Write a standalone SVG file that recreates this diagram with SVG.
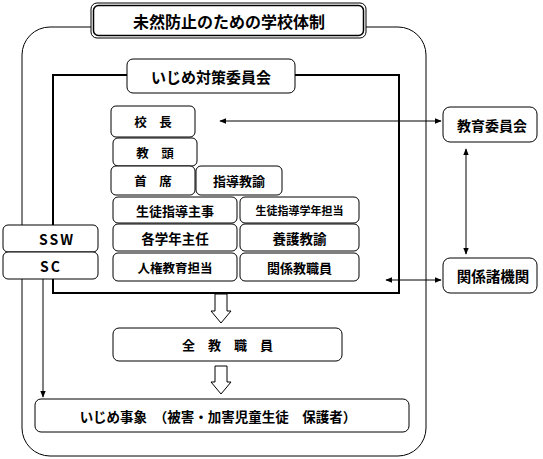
<svg xmlns="http://www.w3.org/2000/svg" width="543" height="459" viewBox="0 0 543 459">
<style>
.b{fill:#fff;stroke:#000;stroke-width:1}
.d{fill:#fff;stroke:#000;stroke-width:1}
.t{font-family:"Noto Sans CJK JP","Noto Sans CJK SC",sans-serif;font-weight:bold;fill:#000;text-anchor:middle;dominant-baseline:central}
.l{stroke:#000;stroke-width:1;fill:none}
.h{fill:#fff;stroke:#000;stroke-width:1}
</style>
<defs>
<marker id="a" viewBox="0 0 10 10" refX="9" refY="5" markerWidth="7" markerHeight="7" orient="auto-start-reverse" markerUnits="userSpaceOnUse"><path d="M0,1 L10,5 L0,9 Z" fill="#000"/></marker>
</defs>
<g id="frame">
<rect x="22" y="27" width="404" height="429" rx="28" class="l" stroke="#222"/>
<rect x="53" y="75" width="346" height="218" fill="none" stroke="#000" stroke-width="2"/>
</g>
<g id="connectors">
<line x1="220" y1="121" x2="441" y2="121" class="l" marker-start="url(#a)" marker-end="url(#a)"/>
<line x1="466" y1="149" x2="466" y2="254" class="l" marker-start="url(#a)" marker-end="url(#a)"/>
<line x1="386" y1="280" x2="441" y2="280" class="l" marker-start="url(#a)" marker-end="url(#a)"/>
<line x1="43" y1="279" x2="43" y2="397" class="l" marker-end="url(#a)"/>
<polygon class="h" points="215,294 227,294 227,311 231,311 221,323 211,311 215,311"/>
<polygon class="h" points="215,366 227,366 227,382 231,382 221,394 211,382 215,382"/>
</g>
<g id="title">
<rect x="91" y="3" width="275" height="35" rx="6" class="b"/>
<rect x="93.5" y="5.5" width="270" height="30" rx="5" fill="none" stroke="#000" stroke-width="1.5"/>
<text x="229" y="21" class="t" font-size="16">未然防止のための学校体制</text>
</g>
<g id="committee">
<rect x="127" y="59" width="168" height="34" rx="6" class="b"/>
<text x="211" y="76" class="t" font-size="15">いじめ対策委員会</text>
</g>
<g id="kocho"><rect x="111" y="106" width="84" height="31" rx="5" class="b"/><text x="153" y="121.5" class="t" font-size="12.5">校　長</text></g>
<g id="kyoto"><rect x="113" y="138" width="84" height="28" rx="5" class="b"/><text x="155" y="152" class="t" font-size="12.5">教　頭</text></g>
<g id="shuseki"><rect x="111" y="166" width="84" height="29" rx="5" class="b"/><text x="153" y="180.5" class="t" font-size="12.5">首　席</text></g>
<g id="shido"><rect x="196" y="166" width="86" height="29" rx="5" class="b"/><text x="239" y="180.5" class="t" font-size="13">指導教諭</text></g>
<g id="seito"><rect x="113" y="197" width="124" height="26" rx="5" class="b"/><text x="175" y="210" class="t" font-size="13">生徒指導主事</text></g>
<g id="seitogakunen"><rect x="240" y="197" width="119" height="26" rx="5" class="b"/><text x="299.5" y="210" class="t" font-size="11">生徒指導学年担当</text></g>
<g id="gakunen"><rect x="113" y="224" width="124" height="27" rx="5" class="b"/><text x="175" y="237.5" class="t" font-size="13.5">各学年主任</text></g>
<g id="yogo"><rect x="240" y="224" width="119" height="27" rx="5" class="b"/><text x="299.5" y="237.5" class="t" font-size="13.5">養護教諭</text></g>
<g id="jinken"><rect x="113" y="253" width="124" height="28" rx="5" class="b"/><text x="175" y="267" class="t" font-size="12.5">人権教育担当</text></g>
<g id="kankei"><rect x="240" y="253" width="119" height="28" rx="5" class="b"/><text x="299.5" y="267" class="t" font-size="13">関係教職員</text></g>
<g id="ssw"><rect x="3" y="225" width="95" height="27" rx="5" class="b"/><text x="57" y="238.5" class="t" font-size="14" font-family="Liberation Sans,sans-serif" letter-spacing="2">SSW</text></g>
<g id="sc"><rect x="3" y="252" width="95" height="27" rx="5" class="b"/><text x="51" y="265.5" class="t" font-size="14" font-family="Liberation Sans,sans-serif" letter-spacing="2">SC</text></g>
<g id="kyoiku"><rect x="443" y="107" width="94" height="35" rx="7" class="d"/><text x="492" y="124.5" class="t" font-size="14">教育委員会</text></g>
<g id="shokikan"><rect x="443" y="258" width="94" height="35" rx="7" class="d"/><text x="493" y="275.5" class="t" font-size="14.5">関係諸機関</text></g>
<g id="zenkyo"><rect x="113" y="328" width="229" height="33" rx="6" class="b"/><text x="227.5" y="344.5" class="t" font-size="13">全　教　職　員</text></g>
<g id="jisho"><rect x="35" y="399" width="374" height="33" rx="6" class="b"/><text x="218" y="415.5" class="t" font-size="13.5">いじめ事象　（被害・加害児童生徒　保護者）</text></g>
</svg>
